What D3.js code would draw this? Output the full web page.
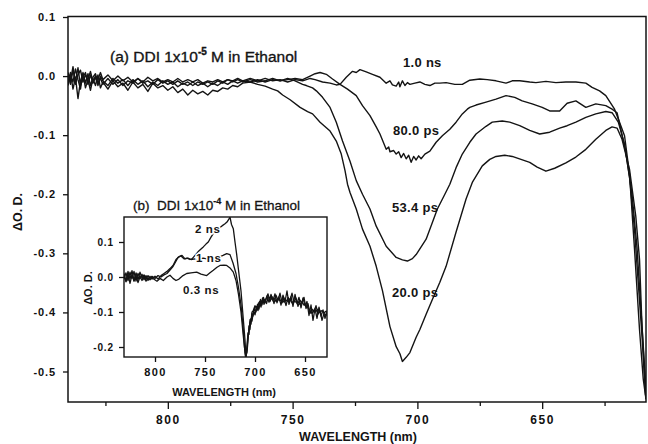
<!DOCTYPE html>
<html>
<head>
<meta charset="utf-8">
<script src="https://cdn.jsdelivr.net/npm/d3@7"></script>
<style>
  body { margin: 0; background: #fff; }
  svg { display: block; font-family: "Liberation Sans", Arial, Helvetica, sans-serif; }
  .axis text { fill: #111; }
  .axis line { stroke: #111; stroke-width: 1.3px; }
</style>
</head>
<body>
<svg id="chart" width="648" height="444"></svg>
<script>
// ---- main panel (a): transient spectra, [wavelength nm, dOD] ----
var trace20ps = [[840,-0.010],[839,0.006],[838,-0.022],[837,-0.002],[836,-0.038],[835,-0.008],[834,0.004],[833,-0.020],[832,-0.006],[831,-0.024],[830,-0.004],[829,-0.016],[828,0.002],[827,-0.020],[826,-0.010],[824,-0.022],[822,-0.008],[820,-0.018],[818,-0.012],[816,-0.024],[814,-0.010],[812,-0.020],[810,-0.014],[808,-0.026],[806,-0.012],[804,-0.020],[802,-0.016],[800,-0.024],[798,-0.018],[796,-0.028],[794,-0.022],[792,-0.032],[790,-0.024],[788,-0.030],[786,-0.026],[784,-0.032],[782,-0.024],[780,-0.026],[778,-0.020],[776,-0.022],[774,-0.016],[772,-0.018],[770,-0.012],[767,-0.010],[764,-0.014],[761,-0.017],[758,-0.022],[756,-0.025],[754,-0.032],[751,-0.040],[747,-0.053],[744,-0.060],[742,-0.064],[739,-0.078],[735,-0.093],[732.5,-0.110],[730.5,-0.132],[729,-0.160],[728,-0.183],[727,-0.197],[724.5,-0.225],[722,-0.259],[719,-0.288],[716.5,-0.322],[714,-0.363],[711,-0.424],[708.5,-0.458],[707,-0.470],[706,-0.483],[704.5,-0.476],[703,-0.468],[700.5,-0.442],[699,-0.429],[696.5,-0.403],[694,-0.378],[691,-0.349],[688.5,-0.322],[684.5,-0.264],[680.5,-0.208],[678,-0.180],[674,-0.152],[671,-0.141],[668.5,-0.136],[665,-0.134],[662,-0.136],[658.5,-0.141],[655,-0.146],[652,-0.154],[648.5,-0.161],[645,-0.156],[640.5,-0.147],[636.5,-0.137],[632.5,-0.124],[628.5,-0.107],[624.5,-0.092],[622,-0.086],[620,-0.088],[618,-0.107],[615,-0.158],[612.5,-0.237],[611,-0.310],[610,-0.424],[608.4,-0.547]];

var trace53ps = [[840,0.004],[839,-0.014],[838,0.010],[837,-0.008],[836,0.014],[835,-0.016],[834,-0.002],[833,0.006],[832,-0.014],[831,0.002],[830,-0.012],[829,-0.002],[828,-0.016],[827,0.000],[826,-0.008],[824,-0.016],[822,-0.004],[820,-0.012],[818,-0.006],[816,-0.016],[814,-0.006],[812,-0.014],[810,-0.008],[808,-0.018],[806,-0.010],[804,-0.016],[802,-0.008],[800,-0.014],[798,-0.010],[796,-0.018],[794,-0.012],[792,-0.016],[790,-0.010],[788,-0.016],[786,-0.012],[784,-0.018],[782,-0.012],[780,-0.016],[778,-0.010],[776,-0.014],[774,-0.008],[772,-0.012],[770,-0.008],[767,-0.010],[764,-0.006],[761,-0.010],[758,-0.006],[755,-0.008],[752,-0.004],[749,-0.008],[746,-0.014],[744.5,-0.016],[742,-0.020],[740.5,-0.025],[738,-0.036],[735,-0.053],[732.5,-0.078],[730,-0.110],[727,-0.144],[724.5,-0.177],[722,-0.200],[719,-0.225],[716.5,-0.254],[712.5,-0.288],[708.5,-0.307],[706,-0.311],[704,-0.313],[702,-0.309],[700.5,-0.302],[696.5,-0.276],[694,-0.248],[692,-0.225],[689,-0.200],[687,-0.183],[684.5,-0.155],[682,-0.132],[679,-0.112],[676.5,-0.098],[672.5,-0.085],[670,-0.078],[666,-0.076],[663,-0.078],[659,-0.084],[655,-0.092],[651,-0.098],[647,-0.095],[643,-0.088],[640,-0.084],[636.5,-0.078],[632.5,-0.070],[628.5,-0.064],[624.5,-0.060],[622,-0.062],[619.5,-0.078],[617,-0.115],[615,-0.170],[613,-0.260],[611.5,-0.350],[610,-0.440],[608.6,-0.540]];

var trace80ps = [[840,-0.016],[839,0.002],[838,-0.010],[837,0.012],[836,-0.006],[835,-0.022],[834,0.006],[833,-0.012],[832,0.004],[831,-0.016],[830,-0.002],[829,0.004],[828,-0.012],[827,-0.004],[826,-0.014],[824,-0.004],[822,-0.014],[820,-0.006],[818,-0.016],[816,-0.008],[814,-0.012],[812,-0.004],[810,-0.012],[808,-0.008],[806,-0.014],[804,-0.006],[802,-0.012],[800,-0.008],[798,-0.014],[796,-0.008],[794,-0.014],[792,-0.010],[790,-0.016],[788,-0.010],[786,-0.014],[784,-0.010],[782,-0.014],[780,-0.008],[778,-0.012],[776,-0.006],[774,-0.010],[772,-0.006],[770,-0.010],[767,-0.006],[764,-0.010],[761,-0.008],[758,-0.004],[755,-0.008],[752,-0.006],[749,-0.004],[746,-0.006],[743,0.000],[741,0.004],[739,0.006],[736.5,0.003],[734,-0.005],[731,-0.014],[728,-0.022],[724.5,-0.033],[722,-0.050],[719,-0.067],[716.5,-0.086],[715,-0.098],[712.5,-0.124],[711.5,-0.120],[711,-0.128],[709.5,-0.126],[708.5,-0.132],[707.5,-0.128],[706.5,-0.138],[705.5,-0.131],[704.5,-0.140],[703.5,-0.134],[702.5,-0.146],[701.5,-0.136],[700.5,-0.142],[699.5,-0.135],[698.5,-0.140],[697,-0.132],[695,-0.127],[692.5,-0.112],[690,-0.101],[687,-0.090],[684.5,-0.078],[682,-0.064],[680,-0.056],[679,-0.053],[676.5,-0.049],[672.5,-0.044],[668.5,-0.039],[664.5,-0.033],[661,-0.036],[658,-0.042],[654,-0.047],[650,-0.053],[647,-0.059],[643,-0.059],[640,-0.046],[636.5,-0.042],[632.5,-0.053],[628.5,-0.047],[624.5,-0.050],[622,-0.056],[620,-0.062],[618.5,-0.090],[616.5,-0.130],[614,-0.200],[612,-0.290],[610.5,-0.390],[609,-0.490],[608.4,-0.530]];

var trace1ns = [[840,0.006],[839,-0.008],[838,0.016],[837,-0.014],[836,0.002],[835,0.010],[834,-0.010],[833,0.002],[832,-0.006],[831,0.008],[830,-0.010],[829,0.000],[828,-0.006],[827,0.006],[826,-0.006],[824,0.002],[822,-0.008],[820,0.000],[818,-0.008],[816,-0.002],[814,-0.010],[812,-0.004],[810,-0.010],[808,-0.002],[806,-0.008],[804,-0.004],[802,-0.010],[800,-0.006],[798,-0.010],[796,-0.004],[794,-0.010],[792,-0.006],[790,-0.010],[788,-0.006],[786,-0.012],[784,-0.008],[782,-0.010],[780,-0.006],[778,-0.010],[776,-0.006],[774,-0.008],[772,-0.004],[770,-0.008],[767,-0.004],[764,-0.008],[761,-0.004],[758,-0.008],[755,-0.006],[752,-0.010],[749,-0.006],[746,-0.008],[743,-0.004],[741,-0.006],[738,-0.010],[735,-0.012],[732.5,-0.015],[731,-0.014],[728.5,-0.002],[726,0.008],[724.5,0.006],[723,0.011],[720.5,0.007],[718,0.003],[715,-0.002],[712.5,-0.012],[711,-0.008],[710,-0.015],[708.5,-0.017],[707.5,-0.010],[707,-0.018],[706,-0.008],[705,-0.016],[704,-0.011],[703,-0.014],[701,-0.012],[699,-0.010],[697,-0.014],[695,-0.016],[693,-0.012],[691,-0.012],[688.5,-0.011],[685,-0.014],[682,-0.014],[679,-0.007],[675,-0.005],[672,-0.006],[668.5,-0.008],[664.5,-0.012],[662,-0.008],[659,-0.008],[655,-0.010],[652.5,-0.011],[648.5,-0.009],[644.5,-0.011],[640.5,-0.010],[636.5,-0.010],[632.5,-0.012],[630,-0.019],[627,-0.025],[624.5,-0.033],[621,-0.056],[619,-0.078],[617,-0.101],[615,-0.166],[613,-0.293],[611,-0.429],[609.5,-0.513],[608.4,-0.547]];

var mainTraces = [trace1ns, trace80ps, trace53ps, trace20ps];
var mainTraceLabels = ["1.0 ns", "80.0 ps", "53.4 ps", "20.0 ps"];
var mainLabelPos = [[403, 67], [393, 135], [392, 212], [392, 297]];

var mainXTicks = [800, 750, 700, 650];
var mainXMinor = [825, 775, 725, 675, 625];
var mainYTicks = [0.1, 0.0, -0.1, -0.2, -0.3, -0.4, -0.5];
var mainYTickLabels = ["0.1", "0.0", "-0.1", "-0.2", "-0.3", "-0.4", "-0.5"];

// ---- inset panel (b) ----
var inset2ns = [[831,0.010],[829,-0.012],[827,0.016],[825,-0.006],[823,0.018],[821,-0.010],[819,0.012],[817,-0.008],[815,0.014],[813,-0.004],[811,0.006],[809,-0.006],[807,0.004],[805,-0.004],[803,0.002],[800,-0.004],[797,0.004],[794,0.000],[791,0.006],[788,0.010],[785,0.020],[782,0.030],[780,0.040],[777,0.056],[774,0.060],[771,0.052],[768,0.054],[765,0.050],[763,0.052],[760,0.062],[757,0.072],[754,0.080],[751.7,0.086],[749,0.094],[746.7,0.100],[744,0.114],[741.7,0.124],[739,0.132],[736.7,0.138],[733,0.146],[730,0.152],[728,0.157],[726,0.166],[725,0.171],[723.5,0.150],[721.7,0.138],[720,0.100],[718.3,0.064],[716.5,0.020],[714,-0.040],[712,-0.110],[710,-0.180],[709,-0.229],[708,-0.205],[707,-0.170],[706,-0.150],[705,-0.128],[704,-0.135],[703,-0.105],[702,-0.112],[700.5,-0.090],[699,-0.100],[697.5,-0.078],[696,-0.092],[694.5,-0.064],[693,-0.080],[691.5,-0.058],[690,-0.074],[688,-0.054],[686,-0.072],[684,-0.050],[682,-0.068],[680,-0.048],[678,-0.074],[676,-0.056],[674,-0.080],[672,-0.052],[670,-0.070],[668,-0.040],[666,-0.078],[664,-0.056],[662,-0.084],[660,-0.050],[658,-0.076],[656,-0.058],[654,-0.088],[652,-0.060],[650,-0.082],[648,-0.070],[646,-0.110],[644,-0.080],[642,-0.124],[640,-0.090],[638,-0.118],[636,-0.086],[634,-0.112],[632,-0.094],[630,-0.118],[628,-0.096]];

var inset1ns = [[831,-0.006],[829,0.012],[827,-0.010],[825,0.014],[823,-0.004],[821,0.016],[819,-0.012],[817,0.010],[815,-0.002],[813,0.008],[811,-0.008],[809,0.004],[807,-0.010],[805,0.002],[803,-0.006],[800,0.002],[797,-0.006],[794,0.004],[791,0.010],[788,0.016],[785,0.024],[782,0.033],[779,0.050],[776,0.058],[773,0.062],[770,0.052],[767,0.054],[764,0.050],[760,0.052],[756,0.050],[752,0.054],[748,0.052],[744,0.050],[740,0.054],[736,0.057],[732,0.062],[728.3,0.067],[725,0.064],[722,0.040],[719,0.010],[716.5,-0.030],[714,-0.080],[712,-0.140],[710.5,-0.200],[709.5,-0.229],[708,-0.215],[707,-0.182],[706,-0.140],[705,-0.150],[704,-0.118],[703,-0.126],[701.5,-0.096],[700,-0.108],[698.5,-0.084],[697,-0.096],[695.5,-0.070],[694,-0.086],[692.5,-0.060],[691,-0.078],[689,-0.062],[687,-0.048],[685,-0.070],[683,-0.056],[681,-0.076],[679,-0.052],[677,-0.066],[675,-0.046],[673,-0.074],[671,-0.060],[669,-0.082],[667,-0.058],[665,-0.066],[663,-0.046],[661,-0.072],[659,-0.060],[657,-0.084],[655,-0.066],[653,-0.074],[651,-0.058],[649,-0.090],[647,-0.076],[645,-0.104],[643,-0.092],[641,-0.100],[639,-0.082],[637,-0.106],[635,-0.096],[633,-0.124],[631,-0.104],[629,-0.110],[628,-0.100]];

var inset03ns = [[831,0.004],[829,-0.014],[827,0.008],[825,-0.018],[823,0.006],[821,-0.012],[819,0.004],[817,-0.016],[815,0.000],[813,-0.010],[811,0.004],[809,-0.012],[807,-0.002],[805,-0.008],[803,0.000],[801.7,-0.005],[798,-0.012],[795,-0.004],[791.7,-0.010],[788,0.000],[785,0.005],[782,-0.004],[779,-0.010],[776,-0.006],[772,0.004],[768.3,0.010],[764,0.012],[758.3,0.014],[754,0.008],[748.3,0.004],[745,0.012],[741.7,0.019],[738,0.028],[735,0.033],[731,0.034],[728.3,0.033],[725,0.026],[721.7,0.014],[719,-0.010],[716.5,-0.050],[714,-0.100],[712,-0.160],[710,-0.215],[709,-0.229],[708,-0.196],[707,-0.160],[706,-0.164],[705,-0.122],[704,-0.128],[703,-0.100],[702,-0.098],[700,-0.082],[698,-0.094],[696.5,-0.074],[695,-0.082],[693.5,-0.068],[692,-0.070],[690,-0.064],[688.5,-0.076],[687,-0.060],[685,-0.058],[683,-0.064],[681,-0.060],[679,-0.070],[677,-0.062],[675,-0.068],[673,-0.064],[671,-0.072],[669,-0.066],[667,-0.070],[665,-0.064],[663,-0.074],[661,-0.068],[659,-0.072],[657,-0.070],[655,-0.078],[653,-0.072],[651,-0.080],[649,-0.078],[647,-0.088],[645,-0.096],[643,-0.104],[641,-0.094],[639,-0.098],[637,-0.092],[635,-0.100],[633,-0.096],[631,-0.102],[629,-0.098],[628,-0.104]];

var insetTraces = [inset03ns, inset1ns, inset2ns];
var insetTraceLabels = ["0.3 ns", "1 ns", "2 ns"];
var insetLabelPos = [[183, 294], [196, 262], [195, 233]];

var insetXTicks = [800, 750, 700, 650];
var insetYTicks = [0.1, 0.0, -0.1, -0.2];
var insetYTickLabels = ["0.1", "0.0", "-0.1", "-0.2"];

// ************************************************************ //

const svg = d3.select("#chart");
const ink = "#141414";

// main panel scales
const x = d3.scaleLinear().domain([840, 608.4]).range([68, 646]);
const y = d3.scaleLinear().domain([0.1, -0.5]).range([17, 371.5]);
const plotTop = 16.5, plotBottom = 402;

svg.append("clipPath").attr("id", "clipMain")
  .append("rect").attr("x", 68).attr("y", plotTop)
  .attr("width", 578).attr("height", plotBottom - plotTop);

const line = d3.line().x(d => x(d[0])).y(d => y(d[1]));

svg.append("g").attr("clip-path", "url(#clipMain)")
  .selectAll("path").data(mainTraces).enter().append("path")
    .attr("d", line)
    .attr("fill", "none")
    .attr("stroke", ink)
    .attr("stroke-width", 1.4)
    .attr("stroke-linejoin", "round");

// box
svg.append("rect")
  .attr("x", 68).attr("y", plotTop)
  .attr("width", 578).attr("height", plotBottom - plotTop)
  .attr("fill", "none").attr("stroke", ink).attr("stroke-width", 1.5);

// y axis
const gy = svg.append("g").attr("class", "axis").attr("transform", "translate(68,0)")
  .call(d3.axisLeft(y).tickValues(mainYTicks).tickSize(5).tickPadding(7)
    .tickFormat((d, i) => mainYTickLabels[i]));
gy.select(".domain").remove();
gy.selectAll("text").attr("font-size", 11).attr("font-weight", "bold")
  .attr("letter-spacing", 0.9).attr("font-family", "Liberation Sans, Arial, sans-serif");

// x axis, major and minor
const gx = svg.append("g").attr("class", "axis").attr("transform", "translate(0," + plotBottom + ")")
  .call(d3.axisBottom(x).tickValues(mainXTicks).tickSize(7).tickPadding(6).tickFormat(d3.format("d")));
gx.select(".domain").remove();
gx.selectAll("text").attr("font-size", 12).attr("font-weight", "bold")
  .attr("letter-spacing", 1.6).attr("font-family", "Liberation Sans, Arial, sans-serif");

const gxm = svg.append("g").attr("class", "axis").attr("transform", "translate(0," + plotBottom + ")")
  .call(d3.axisBottom(x).tickValues(mainXMinor).tickSize(4).tickFormat(""));
gxm.select(".domain").remove();

// axis titles
svg.append("text")
  .attr("x", 358).attr("y", 441)
  .attr("text-anchor", "middle")
  .attr("font-size", 12.5).attr("font-weight", "bold").attr("fill", ink)
  .text("WAVELENGTH (nm)");

svg.append("text")
  .attr("transform", "translate(22,212) rotate(-90)")
  .attr("text-anchor", "middle")
  .attr("font-size", 12.5).attr("font-weight", "bold").attr("fill", ink)
  .text("\u0394O. D.");

// panel title (a)
const ta = svg.append("text").attr("x", 110).attr("y", 62)
  .attr("font-size", 15.5).attr("fill", ink)
  .attr("stroke", ink).attr("stroke-width", 0.35);
ta.append("tspan").text("(a) DDI 1x10");
ta.append("tspan").attr("dy", -7).attr("font-size", 10).attr("font-weight", "bold").text("-5");
ta.append("tspan").attr("dy", 7).text(" M in Ethanol");

// trace labels
svg.selectAll(".mainLabel").data(mainTraceLabels).enter().append("text")
  .attr("class", "mainLabel")
  .attr("x", (d, i) => mainLabelPos[i][0])
  .attr("y", (d, i) => mainLabelPos[i][1])
  .attr("font-size", 13).attr("font-weight", "bold")
  .attr("letter-spacing", 0.3).attr("fill", ink)
  .text(d => d);

// ---- inset ----
const xi = d3.scaleLinear().domain([831, 628]).range([124, 327]);
const yi = d3.scaleLinear().domain([0.1, -0.2]).range([242, 347]);
const inTop = 217, inBottom = 357;

svg.append("rect")
  .attr("x", 124).attr("y", inTop).attr("width", 203).attr("height", inBottom - inTop)
  .attr("fill", "#fff");

svg.append("clipPath").attr("id", "clipInset")
  .append("rect").attr("x", 124).attr("y", inTop)
  .attr("width", 203).attr("height", inBottom - inTop);

const lineI = d3.line().x(d => xi(d[0])).y(d => yi(d[1]));

svg.append("g").attr("clip-path", "url(#clipInset)")
  .selectAll("path").data(insetTraces).enter().append("path")
    .attr("d", lineI)
    .attr("fill", "none")
    .attr("stroke", ink)
    .attr("stroke-width", 1.3)
    .attr("stroke-linejoin", "round");

svg.append("rect")
  .attr("x", 124).attr("y", inTop).attr("width", 203).attr("height", inBottom - inTop)
  .attr("fill", "none").attr("stroke", ink).attr("stroke-width", 1.4);

const giy = svg.append("g").attr("class", "axis").attr("transform", "translate(124,0)")
  .call(d3.axisLeft(yi).tickValues(insetYTicks).tickSize(5).tickPadding(5)
    .tickFormat((d, i) => insetYTickLabels[i]));
giy.select(".domain").remove();
giy.selectAll("text").attr("font-size", 10).attr("font-weight", "bold")
  .attr("letter-spacing", 0.9).attr("font-family", "Liberation Sans, Arial, sans-serif");

const gix = svg.append("g").attr("class", "axis").attr("transform", "translate(0," + inBottom + ")")
  .call(d3.axisBottom(xi).tickValues(insetXTicks).tickSize(5).tickPadding(6).tickFormat(d3.format("d")));
gix.select(".domain").remove();
gix.selectAll("text").attr("font-size", 11).attr("font-weight", "bold")
  .attr("letter-spacing", 1.4).attr("font-family", "Liberation Sans, Arial, sans-serif");

svg.append("text")
  .attr("x", 224).attr("y", 396)
  .attr("text-anchor", "middle")
  .attr("font-size", 11).attr("font-weight", "bold").attr("fill", ink)
  .text("WAVELENGTH (nm)");

svg.append("text")
  .attr("transform", "translate(92,288) rotate(-90)")
  .attr("text-anchor", "middle")
  .attr("font-size", 11).attr("font-weight", "bold").attr("fill", ink)
  .text("\u0394O. D.");

const tb = svg.append("text").attr("x", 133).attr("y", 210)
  .attr("font-size", 13.5).attr("fill", ink)
  .attr("stroke", ink).attr("stroke-width", 0.3);
tb.append("tspan").text("(b)\u00a0\u00a0DDI 1x10");
tb.append("tspan").attr("dy", -6).attr("font-size", 9).attr("font-weight", "bold").text("-4");
tb.append("tspan").attr("dy", 6).text(" M in Ethanol");

svg.selectAll(".insetLabel").data(insetTraceLabels).enter().append("text")
  .attr("class", "insetLabel")
  .attr("x", (d, i) => insetLabelPos[i][0])
  .attr("y", (d, i) => insetLabelPos[i][1])
  .attr("font-size", 11.5).attr("font-weight", "bold")
  .attr("letter-spacing", 0.6).attr("fill", ink)
  .attr("stroke", "#fff").attr("stroke-width", 3).attr("paint-order", "stroke")
  .text(d => d);
</script>
</body>
</html>
